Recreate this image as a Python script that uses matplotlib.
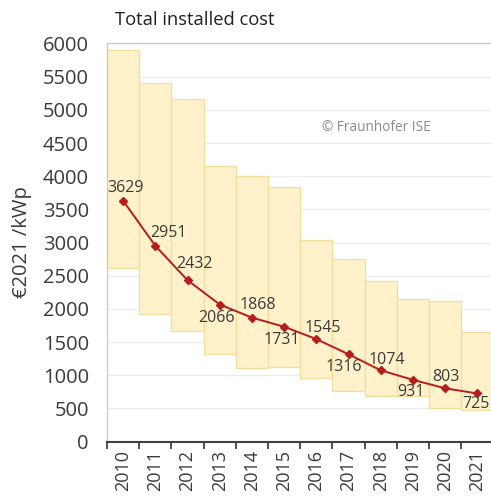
import matplotlib
matplotlib.use("Agg")
import matplotlib.pyplot as plt
import numpy as np

plt.rcParams['font.family'] = ['Open Sans', 'DejaVu Sans']

years = ["2010", "2011", "2012", "2013", "2014", "2015", "2016", "2017", "2018", "2019", "2020", "2021"]
range_min = [2620, 1930, 1670, 1316, 1105, 1130, 963, 763, 692, 692, 511, 480]
range_max = [5900, 5410, 5160, 4155, 4010, 3830, 3040, 2755, 2425, 2145, 2125, 1650]
avg_cost = [3629, 2951, 2432, 2066, 1868, 1731, 1545, 1316, 1074, 931, 803, 725]
# label offsets in pixels (dx, dy)
label_offsets = [(2, 13), (13, 13), (7, 16), (-3, -13), (6, 13), (-2, -13),
                 (6, 11), (-5, -13), (6, 10), (-2, -12), (1, 11), (-1, -11)]

fig = plt.figure(figsize=(4.91, 4.96), dpi=100)
ax = fig.add_axes([0.218, 0.1097, 0.787, 0.8026])

x = np.arange(len(years))
heights = [mx - mn for mn, mx in zip(range_min, range_max)]
ax.bar(x, heights, bottom=range_min, width=1.0, color='#FFF1C9', edgecolor='#F3DC9E',
       linewidth=0.9, zorder=2)

ax.plot(x, avg_cost, color='#B81C1C', linewidth=1.4, marker='D', markersize=4,
        markerfacecolor='#B81C1C', markeredgecolor='#B81C1C', zorder=4)

for xi, v, (dx, dy) in zip(x, avg_cost, label_offsets):
    ax.annotate(str(v), (xi, v), xytext=(dx, dy), textcoords='offset pixels',
                ha='center', va='center', fontsize=11.5, color='#3A3A3A', zorder=5)

ax.set_xlim(-0.5, len(years) - 0.5)
ax.set_ylim(0, 6000)
ax.set_yticks(np.arange(0, 6001, 500))
ax.tick_params(axis='y', length=0, pad=13, labelsize=14.5, labelcolor='#3A3A3A')
ax.yaxis.grid(True, color='#EBEBEB', linewidth=0.9, zorder=0)
ax.set_axisbelow(True)

ax.set_xticks(x)
ax.set_xticklabels(years, rotation=90)
ax.tick_params(axis='x', which='major', length=0, pad=6, labelsize=13, labelcolor='#3A3A3A')
ax.set_xticks(np.arange(-0.5, len(years) + 0.5, 1), minor=True)
ax.tick_params(axis='x', which='minor', length=5, width=1.3, color='#404040', direction='out')

ax.spines['right'].set_visible(False)
ax.spines['top'].set_color('#C8C8C8')
ax.spines['top'].set_linewidth(0.9)
ax.spines['left'].set_color('#C8C8C8')
ax.spines['left'].set_linewidth(0.9)
ax.spines['bottom'].set_color('#404040')
ax.spines['bottom'].set_linewidth(1.5)

ax.set_ylabel('€2021 /kWp', fontsize=14.5, color='#3A3A3A')
ax.yaxis.set_label_coords(-0.195, 0.5)

fig.text(115 / 491, 1 - 20 / 496, 'Total installed cost', fontsize=13.2, color='#202020',
         ha='left', va='center')
ax.text(0.698, 0.79, '© Fraunhofer ISE', transform=ax.transAxes, fontsize=9.8,
        color='#8A8A8A', ha='center', va='center')

fig.savefig('out.png', dpi=100)
